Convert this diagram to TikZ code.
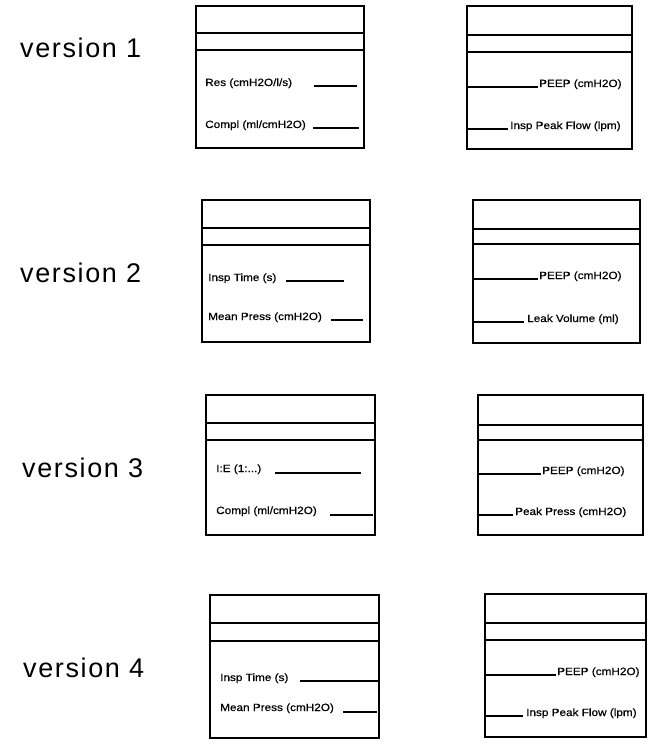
\documentclass[tikz,border=0pt]{standalone}
\usepackage{fontspec}
\setmainfont{Liberation Sans}
\newfontfamily\verf[LetterSpace=6]{Liberation Sans}
\newfontfamily\smf[FakeStretch=1.12,FakeBold=0.6]{Liberation Sans}
\begin{document}
\begin{tikzpicture}[x=1pt,y=-1pt,
  rule/.style={line width=1.4pt, line cap=rect},
  ver/.style={anchor=west, inner sep=0pt, font=\verf\fontsize{27}{29}\selectfont},
  lbl/.style={anchor=base west, inner sep=0pt, font=\smf\fontsize{10.5}{12}\selectfont},
  boxn/.style={draw, line width=1.4pt, inner sep=0pt}]
\useasboundingbox (0,0) rectangle (652,749);

% version labels
\node[ver] (v1) at (20,48) {version 1};
\node[ver] (v2) at (20,273) {version 2};
\node[ver] (v3) at (22,468) {version 3};
\node[ver] (v4) at (23,668) {version 4};

% panel macro: name, x1, y1, x2, y2, divider1, divider2
\newcommand{\mypanel}[7]{%
  \node[boxn, minimum width={#4-#2}, minimum height={#5-#3}] (#1) at ({(#2+#4)/2},{(#3+#5)/2}) {};
  \draw[rule] (#1.west |- 0,#6) -- (#1.east |- 0,#6);
  \draw[rule] (#1.west |- 0,#7) -- (#1.east |- 0,#7);
}

% ---------- version 1 ----------
\mypanel{L1}{196}{6}{364}{148}{33}{50}
\node[lbl] (L1a) at (205,86) {Res (cmH2O/l/s)};
\coordinate (L1ae) at (356,86);
\draw[rule] (L1a.base east) ++(22,0) coordinate (L1as) -- (L1ae);
\node[lbl] (L1b) at (205,128) {Compl (ml/cmH2O)};
\coordinate (L1be) at (358,128);
\draw[rule] (L1b.base east) ++(8,0) -- (L1be);

\mypanel{R1}{467}{6}{632}{149}{35}{52}
\node[lbl] (R1a) at (539,87) {PEEP (cmH2O)};
\draw[rule] (R1.west |- R1a.base) -- ([xshift=-2pt]R1a.base west);
\node[lbl] (R1b) at (510,129) {Insp Peak Flow (lpm)};
\draw[rule] (R1.west |- R1b.base) -- ([xshift=-3pt]R1b.base west);

% ---------- version 2 ----------
\mypanel{L2}{202}{200}{370}{342}{228}{245}
\node[lbl] (L2a) at (208,281) {Insp Time (s)};
\coordinate (L2ae) at (343,281);
\draw[rule] (L2a.base east) ++(10,0) -- (L2ae);
\node[lbl] (L2b) at (208,320) {Mean Press (cmH2O)};
\coordinate (L2be) at (362,320);
\draw[rule] (L2b.base east) ++(10,0) -- (L2be);

\mypanel{R2}{473}{200}{640}{343}{229}{244}
\node[lbl] (R2a) at (539,279) {PEEP (cmH2O)};
\draw[rule] (R2.west |- R2a.base) -- ([xshift=-2pt]R2a.base west);
\node[lbl] (R2b) at (527,322) {Leak Volume (ml)};
\draw[rule] (R2.west |- R2b.base) -- ([xshift=-4pt]R2b.base west);

% ---------- version 3 ----------
\mypanel{L3}{206}{395}{375}{535}{423}{440}
\node[lbl] (L3a) at (216,472) {I:E (1:...)};
\coordinate (L3ae) at (360,473);
\draw[rule] (L3a.base east) ++(14,1) -- (L3ae);
\node[lbl] (L3b) at (216,514) {Compl (ml/cmH2O)};
\coordinate (L3be) at (372,515);
\draw[rule] (L3b.base east) ++(14,1) -- (L3be);

\mypanel{R3}{478}{395}{643}{535}{425}{440}
\node[lbl] (R3a) at (542,474) {PEEP (cmH2O)};
\draw[rule] (R3.west |- R3a.base) -- ([xshift=-2pt]R3a.base west);
\node[lbl] (R3b) at (515,515) {Peak Press (cmH2O)};
\draw[rule] (R3.west |- R3b.base) -- ([xshift=-3pt]R3b.base west);

% ---------- version 4 ----------
\mypanel{L4}{210}{595}{379}{738}{623}{641}
\node[lbl] (L4a) at (220,681) {Insp Time (s)};
\coordinate (L4ae) at (378,681);
\draw[rule] (L4a.base east) ++(12,0) -- (L4ae);
\node[lbl] (L4b) at (220,711) {Mean Press (cmH2O)};
\coordinate (L4be) at (376,712);
\draw[rule] (L4b.base east) ++(10,1) -- (L4be);

\mypanel{R4}{485}{594}{646}{737}{623}{640}
\node[lbl] (R4a) at (557,675) {PEEP (cmH2O)};
\draw[rule] (R4.west |- R4a.base) -- ([xshift=-2pt]R4a.base west);
\node[lbl] (R4b) at (526,716) {Insp Peak Flow (lpm)};
\draw[rule] (R4.west |- R4b.base) -- ([xshift=-4pt]R4b.base west);
\end{tikzpicture}
\end{document}
